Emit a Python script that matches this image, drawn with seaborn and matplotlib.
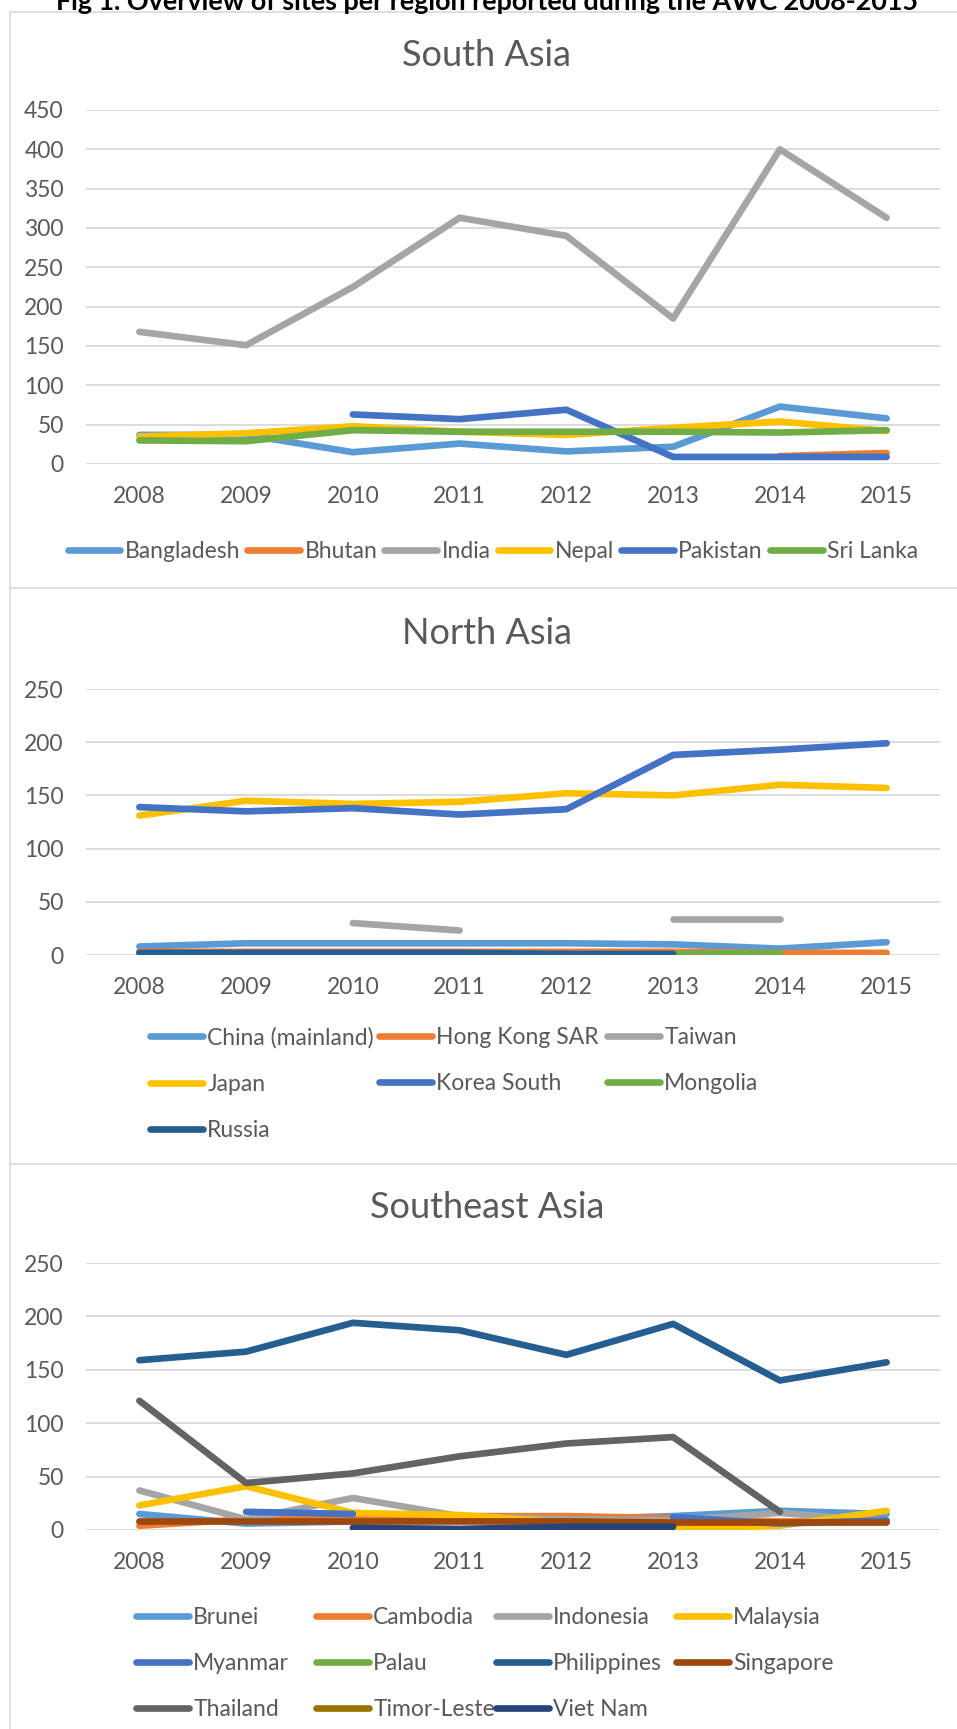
import numpy as np
import pandas as pd
import matplotlib
matplotlib.use("Agg")
import matplotlib.pyplot as plt
from matplotlib.lines import Line2D
import seaborn as sns

nan = np.nan
years = ["2008", "2009", "2010", "2011", "2012", "2013", "2014", "2015"]

# South Asia
south_names = ["Bangladesh", "Bhutan", "India", "Nepal", "Pakistan", "Sri Lanka"]
bangladesh = [37, 37, 15, 26, 16, 22, 73, 58]
bhutan = [nan, nan, nan, nan, nan, nan, 10, 14]
india = [168, 151, 225, 313, 290, 185, 400, 313]
nepal = [35, 39, 48, 41, 37, 46, 54, 42]
pakistan = [nan, nan, 63, 57, 69, 9, 9, 9]
sri_lanka = [30, 29, 43, 41, 41, 41, 40, 43]

# North Asia
north_names = ["China (mainland)", "Hong Kong SAR", "Taiwan", "Japan",
               "Korea South", "Mongolia", "Russia"]
china = [8, 11, 11, 11, 11, 10, 6, 12]
hong_kong = [3, 3, 3, 3, 3, 3, 2, 2]
taiwan = [nan, nan, 30, 23, nan, 34, 34, nan]
japan = [131, 145, 142, 144, 152, 150, 160, 157]
korea_south = [139, 135, 138, 132, 137, 188, 193, 199]
mongolia = [nan, nan, nan, nan, nan, 1, 2, nan]
russia = [2, 2, 2, 2, 1, 1, nan, nan]

# Southeast Asia
se_names = ["Brunei", "Cambodia", "Indonesia", "Malaysia", "Myanmar", "Palau",
            "Philippines", "Singapore", "Thailand", "Timor-Leste", "Viet Nam"]
brunei = [15, 6, 8, 10, 10, 13, 18, 15]
cambodia = [4, 10, 12, 13, 13, 11, 8, 8]
indonesia = [37, 10, 30, 13, 10, 9, 16, 8]
malaysia = [23, 41, 16, 14, 7, 1, 4, 18]
myanmar = [nan, 17, 15, nan, nan, 12, 6, 9]
palau = [nan] * 8
philippines = [159, 167, 194, 187, 164, 193, 140, 157]
singapore = [8, 8, 8, 8, 8, 7, 7, 7]
thailand = [121, 44, 53, 69, 81, 87, 17, nan]
timor_leste = [nan] * 8
viet_nam = [nan, nan, 2, 1, 3, 3, nan, nan]

excel = ["#5B9BD5", "#ED7D31", "#A5A5A5", "#FFC000", "#4472C4", "#70AD47",
         "#255E91", "#9E480E", "#636363", "#997300", "#264478"]

W, H = 957, 1729
TXT = "#595959"
GRID = "#D9D9D9"
LW = 4.8

sns.set_style("white")
plt.rcParams["font.family"] = ["Lato", "DejaVu Sans"]

fig = plt.figure(figsize=(W / 100, H / 100), dpi=100)


def fx(px):
    return px / W


def fy(py):
    return 1 - py / H


def draw_panel(top, bottom, ymax, names, series):
    ax = fig.add_axes([fx(86), fy(bottom), fx(940 - 86), (bottom - top) / H])
    handles = []
    for i, (name, vals) in enumerate(zip(names, series)):
        s = pd.Series(vals, dtype=float)
        df = pd.DataFrame({"x": np.arange(len(years)), "y": s,
                           "seg": s.isna().cumsum()}).dropna()
        if not df.empty:
            sns.lineplot(data=df, x="x", y="y", units="seg", estimator=None,
                         color=excel[i], lw=LW, ax=ax, legend=False,
                         solid_capstyle="round", solid_joinstyle="round")
        handles.append(Line2D([], [], color=excel[i], lw=LW,
                              solid_capstyle="round", label=name))
    ax.set_xlim(-0.5, 7.5)
    ax.set_ylim(0, ymax)
    ax.set_xticks(range(len(years)))
    ax.set_xticklabels(years)
    ax.set_yticks(range(0, ymax + 1, 50))
    ax.set_xlabel("")
    ax.set_ylabel("")
    ax.grid(axis="y", color=GRID, lw=1.3)
    ax.set_axisbelow(True)
    for sp in ax.spines.values():
        sp.set_visible(False)
    ax.tick_params(axis="both", length=0, labelsize=16.5, colors=TXT)
    ax.tick_params(axis="y", pad=16)
    ax.tick_params(axis="x", pad=16)
    return ax, handles


leg_kw = dict(frameon=False, fontsize=16.5, handlelength=2.3, handletextpad=0.2,
              borderpad=0, borderaxespad=0, labelcolor=TXT, labelspacing=1.1)

# South Asia panel
ax1, h1 = draw_panel(110, 464, 450, south_names,
                     [bangladesh, bhutan, india, nepal, pakistan, sri_lanka])
fig.text(fx(487), fy(55), "South Asia", ha="center", va="center",
         fontsize=26, color=TXT)
fig.legend(handles=h1, loc="center", bbox_to_anchor=(fx(493), fy(552)),
           ncol=6, columnspacing=0.3, **leg_kw)

# North Asia panel
ax2, h2 = draw_panel(689, 955, 250, north_names,
                     [china, hong_kong, taiwan, japan, korea_south, mongolia, russia])
fig.text(fx(487), fy(633), "North Asia", ha="center", va="center",
         fontsize=26, color=TXT)
for c, x0 in enumerate([150, 379, 607]):
    fig.legend(handles=h2[c::3], loc="upper left",
               bbox_to_anchor=(fx(x0), fy(1027)), ncol=1, **leg_kw)

# Southeast Asia panel
ax3, h3 = draw_panel(1263, 1530, 250, se_names,
                     [brunei, cambodia, indonesia, malaysia, myanmar, palau,
                      philippines, singapore, thailand, timor_leste, viet_nam])
fig.text(fx(487), fy(1207), "Southeast Asia", ha="center", va="center",
         fontsize=26, color=TXT)
for c, x0 in enumerate([136, 316, 496, 676]):
    fig.legend(handles=h3[c::4], loc="upper left",
               bbox_to_anchor=(fx(x0), fy(1607)), ncol=1, **leg_kw)

# panel borders
for y in [12, 588, 1164]:
    fig.add_artist(Line2D([fx(10), 1], [fy(y), fy(y)], color=GRID, lw=1.2))
fig.add_artist(Line2D([fx(10), fx(10)], [fy(12), 0], color=GRID, lw=1.2))

# main caption, cut off at the top as in the source
fig.text(fx(487), fy(10), "Fig 1. Overview of sites per region reported during the AWC 2008-2015",
         ha="center", va="baseline", fontsize=19.4, fontweight="bold", color="black")

fig.savefig("out.png", dpi=100)
